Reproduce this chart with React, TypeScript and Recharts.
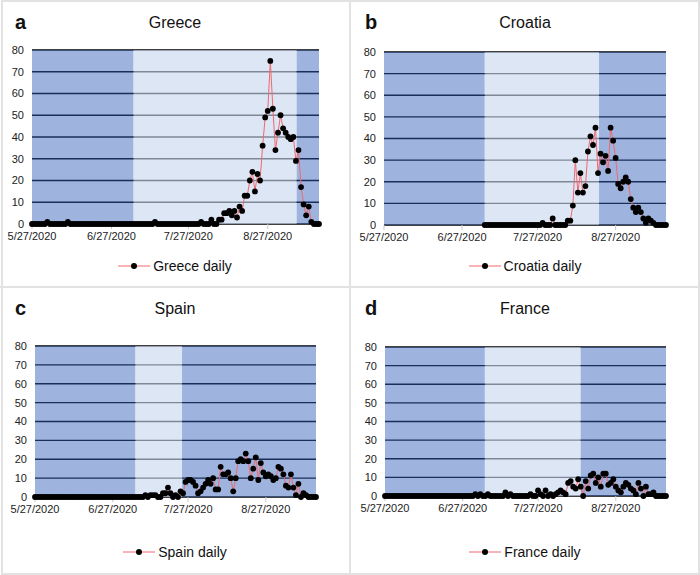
import React from "react";
import { CartesianGrid, Line, LineChart, ReferenceArea, XAxis, YAxis } from "recharts";

// daily values, one per day starting 5/27/2020 (day 0 .. day 112)
const greeceDaily = [
  0, 0, 0, 0, 0, 0, 1, 0, 0, 0,
  0, 0, 0, 0, 1, 0, 0, 0, 0, 0,
  0, 0, 0, 0, 0, 0, 0, 0, 0, 0,
  0, 0, 0, 0, 0, 0, 0, 0, 0, 0,
  0, 0, 0, 0, 0, 0, 0, 0, 1, 0,
  0, 0, 0, 0, 0, 0, 0, 0, 0, 0,
  0, 0, 0, 0, 0, 0, 1, 0, 0, 0,
  2, 0, 0, 2, 2, 5, 5, 6, 4, 6,
  3, 8, 6, 13, 13, 20, 24, 15, 23, 20,
  36, 49, 52, 75, 53, 34, 42, 50, 44, 42,
  40, 39, 40, 29, 34, 17, 9, 4, 8, 1,
  0, 0, 0,
];

const croatiaDaily = [
  null, null, null, null, null, null, null, null, null, null,
  null, null, null, null, null, null, null, null, null, null,
  null, null, null, null, null, null, null, null, null, null,
  null, null, null, null, null, null, null, null, null, null,
  0, 0, 0, 0, 0, 0, 0, 0, 0, 0,
  0, 0, 0, 0, 0, 0, 0, 0, 0, 0,
  0, 0, 0, 1, 0, 0, 0, 3, 0, 0,
  0, 0, 0, 2, 2, 9, 30, 15, 24, 15,
  18, 34, 41, 37, 45, 24, 33, 29, 32, 25,
  45, 39, 31, 19, 17, 20, 22, 20, 12, 8,
  6, 8, 6, 3, 1, 3, 2, 1, 0, 0,
  0, 0, 0,
];

const spainDaily = [
  0, 0, 0, 0, 0, 0, 0, 0, 0, 0,
  0, 0, 0, 0, 0, 0, 0, 0, 0, 0,
  0, 0, 0, 0, 0, 0, 0, 0, 0, 0,
  0, 0, 0, 0, 0, 0, 0, 0, 0, 0,
  0, 0, 0, 0, 1, 0, 1, 1, 1, 0,
  0, 2, 2, 5, 2, 0, 1, 0, 3, 2,
  8, 9, 9, 8, 6, 2, 3, 5, 7, 9,
  7, 10, 4, 4, 16, 12, 12, 13, 10, 3,
  10, 19, 20, 19, 23, 19, 10, 15, 21, 9,
  18, 13, 11, 12, 11, 9, 10, 16, 15, 12,
  6, 5, 12, 5, 1, 7, 0, 2, 1, 0,
  0, 0, 0,
];

const franceDaily = [
  0, 0, 0, 0, 0, 0, 0, 0, 0, 0,
  0, 0, 0, 0, 0, 0, 0, 0, 0, 0,
  0, 0, 0, 0, 0, 0, 0, 0, 0, 0,
  0, 0, 0, 0, 0, 0, 1, 0, 1, 0,
  0, 1, 0, 0, 0, 0, 0, 0, 2, 0,
  1, 0, 0, 0, 0, 0, 0, 0, 1, 0,
  0, 3, 1, 0, 3, 0, 1, 0, 1, 2,
  3, 2, 1, 7, 8, 5, 4, 9, 5, 0,
  8, 4, 11, 12, 7, 10, 5, 12, 12, 6,
  7, 9, 5, 3, 2, 5, 7, 6, 4, 3,
  1, 7, 4, 0, 5, 1, 1, 2, 0, 0,
  0, 0, 0,
];

// light (open) period per country, in days from 5/27/2020
const greeceOpen = [39.6, 103.3];
const croatiaOpen = [40, 85.4];
const spainOpen = [40, 58.6];
const franceOpen = [39.8, 78];

const tickDays = [0, 31, 61, 92];
const tickLabels = ["5/27/2020", "6/27/2020", "7/27/2020", "8/27/2020"];
const yTicks = [0, 10, 20, 30, 40, 50, 60, 70, 80];
const lastDay = 112;

const FONT = "'Liberation Sans', Arial, sans-serif";
const LINE_RED = "#f0686e";

type Plot = { left: number; right: number; top: number; bottom: number };

function Panel({
  letter,
  title,
  values,
  open,
  x,
  y,
  plot,
}: {
  letter: string;
  title: string;
  values: (number | null)[];
  open: number[];
  x: number;
  y: number;
  plot: Plot;
}) {
  const data = values.map((v, i) => ({ day: i, value: v }));
  const W = 350;
  const H = 287;
  return (
    <div style={{ position: "absolute", left: x, top: y, width: W, height: H }}>
      <div
        style={{
          position: "absolute",
          left: 15,
          top: 10,
          fontSize: 20,
          fontWeight: "bold",
          lineHeight: "24px",
          color: "#111",
        }}
      >
        {letter}
      </div>
      <div
        style={{
          position: "absolute",
          left: 0,
          top: 12,
          width: W,
          textAlign: "center",
          fontSize: 16,
          lineHeight: "21px",
          color: "#111",
        }}
      >
        {title}
      </div>
      <LineChart
        width={W}
        height={H}
        data={data}
        margin={{ top: plot.top, right: W - plot.right, bottom: H - plot.bottom - 30, left: 0 }}
      >
        <CartesianGrid vertical={false} stroke="#000" strokeWidth={1.4} />
        <ReferenceArea x1={0} x2={open[0]} fill="#3562bc" fillOpacity={0.48} strokeWidth={0} />
        <ReferenceArea x1={open[0]} x2={open[1]} fill="#c9d8ee" fillOpacity={0.63} strokeWidth={0} />
        <ReferenceArea x1={open[1]} x2={lastDay} fill="#3562bc" fillOpacity={0.48} strokeWidth={0} />
        <XAxis
          type="number"
          dataKey="day"
          domain={[0, lastDay]}
          ticks={tickDays}
          interval={0}
          tickFormatter={(d: number) => tickLabels[tickDays.indexOf(d)]}
          axisLine={false}
          tickLine={{ stroke: "#c8c8c8" }}
          tickSize={5}
          tickMargin={3}
          height={30}
          tick={{ fontSize: 11, fill: "#222", fontFamily: FONT }}
        />
        <YAxis
          type="number"
          domain={[0, 80]}
          ticks={yTicks}
          interval={0}
          axisLine={false}
          tickLine={false}
          width={plot.left}
          tick={{ fontSize: 11, fill: "#222", fontFamily: FONT }}
        />
        <Line
          type="linear"
          dataKey="value"
          stroke={LINE_RED}
          strokeWidth={1}
          dot={{ r: 2.9, fill: "#000", stroke: "#000", strokeWidth: 0 }}
          activeDot={false}
          isAnimationActive={false}
        />
      </LineChart>
      <div
        style={{
          position: "absolute",
          left: 0,
          top: 257,
          width: W,
          display: "flex",
          justifyContent: "center",
          alignItems: "center",
          fontSize: 14,
          lineHeight: "18px",
          color: "#111",
        }}
      >
        <svg width={32} height={10} style={{ marginRight: 3 }}>
          <line x1={0} y1={5} x2={32} y2={5} stroke={LINE_RED} strokeWidth={1} />
          <circle cx={16} cy={5} r={3} fill="#000" />
        </svg>
        <span>{title} daily</span>
      </div>
    </div>
  );
}

export default function App() {
  return (
    <div
      style={{
        position: "absolute",
        left: 0,
        top: 0,
        width: 700,
        height: 575,
        background: "#fff",
        fontFamily: FONT,
      }}
    >
      <Panel letter="a" title="Greece" values={greeceDaily} open={greeceOpen} x={0} y={0}
        plot={{ left: 32, right: 319, top: 50, bottom: 224 }} />
      <Panel letter="b" title="Croatia" values={croatiaDaily} open={croatiaOpen} x={350} y={0}
        plot={{ left: 34, right: 316, top: 52, bottom: 225 }} />
      <Panel letter="c" title="Spain" values={spainDaily} open={spainOpen} x={0} y={286}
        plot={{ left: 35, right: 316, top: 60, bottom: 211 }} />
      <Panel letter="d" title="France" values={franceDaily} open={franceOpen} x={350} y={286}
        plot={{ left: 35, right: 316, top: 61, bottom: 210 }} />
      <div style={{ position: "absolute", left: 1, top: 0, width: 695, height: 571, border: "2px solid #e2e2e2" }} />
      <div style={{ position: "absolute", left: 349, top: 0, width: 2, height: 575, background: "#e2e2e2" }} />
      <div style={{ position: "absolute", left: 0, top: 286, width: 700, height: 2, background: "#e2e2e2" }} />
    </div>
  );
}
